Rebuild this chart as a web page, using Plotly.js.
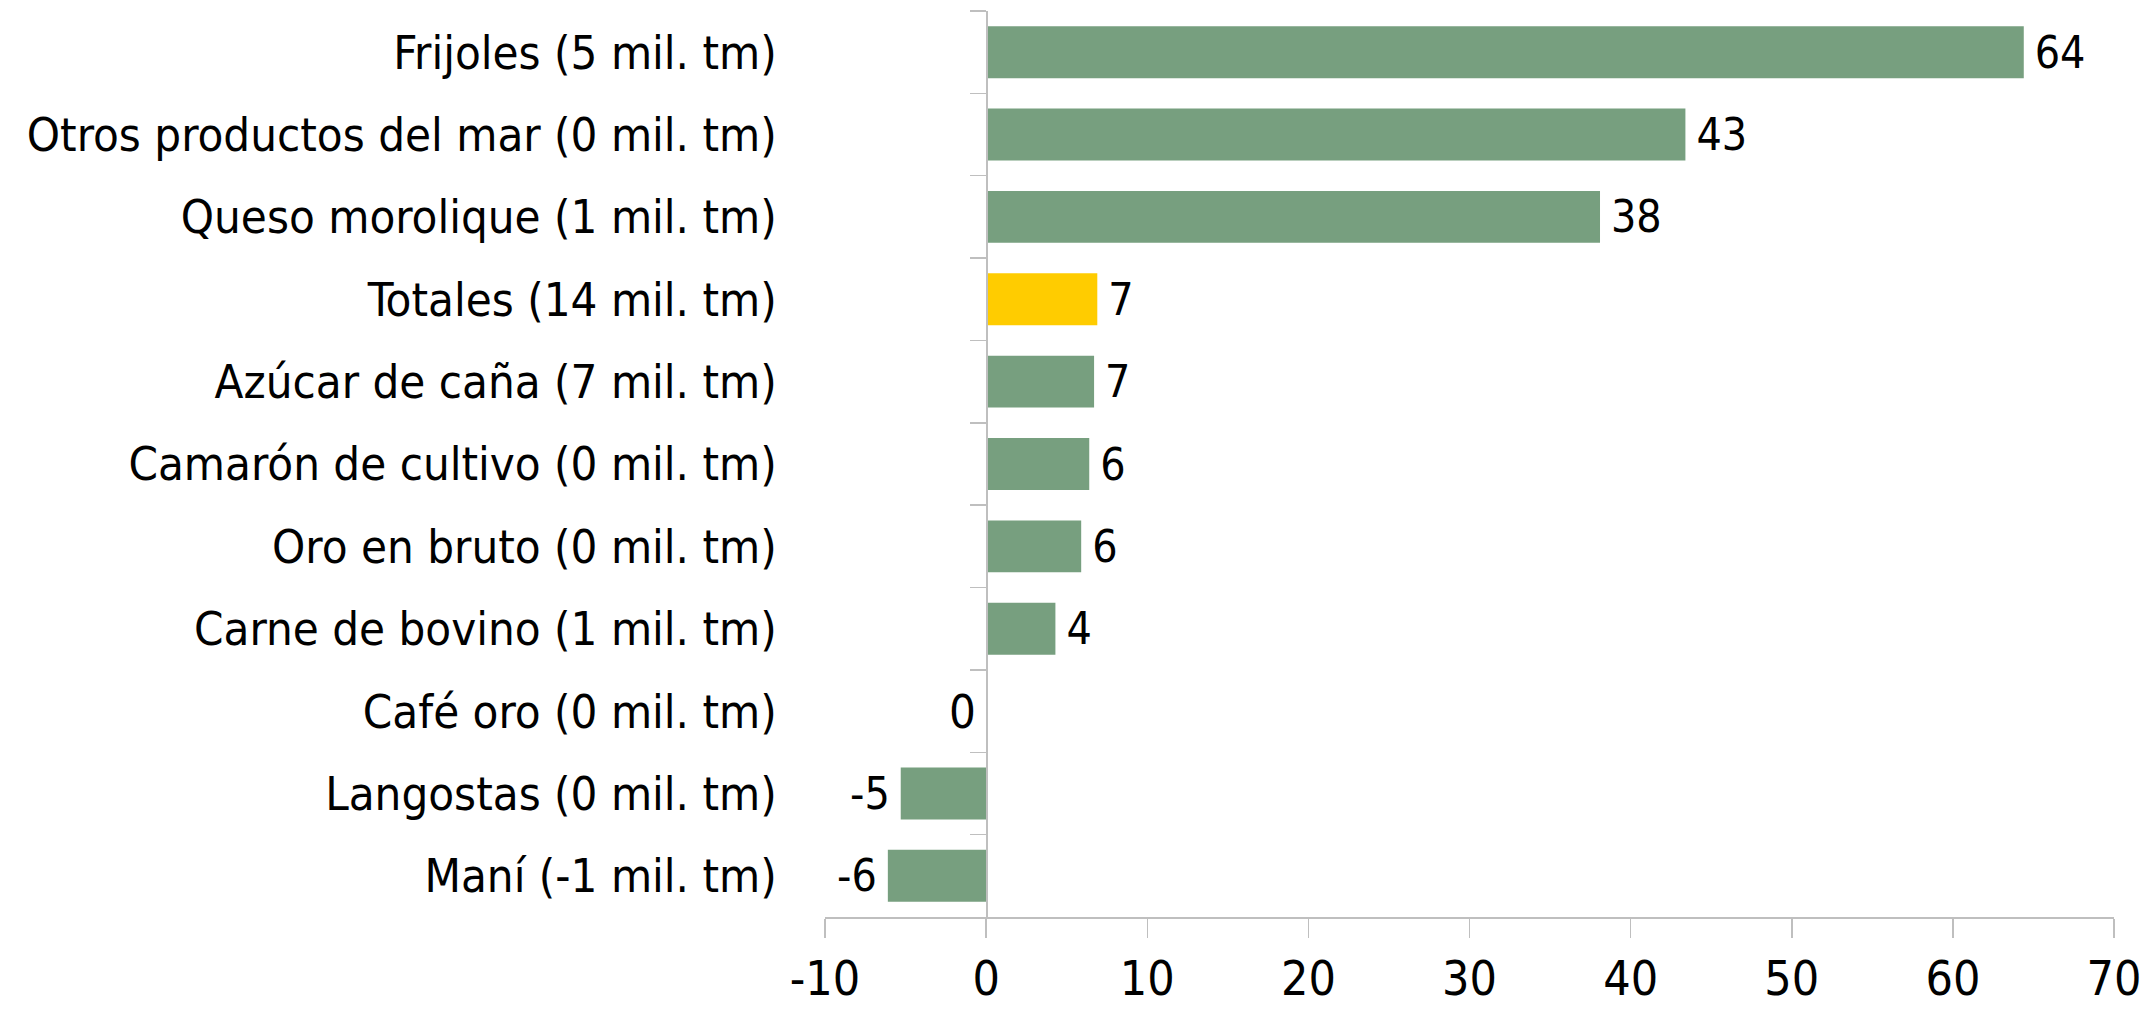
<!DOCTYPE html>
<html>
<head>
<meta charset="utf-8">
<script src="https://cdn.plot.ly/plotly-3.0.1.min.js"></script>
<style>html,body{margin:0;padding:0;background:#fff;}#chart{width:2148px;height:1009px;}</style>
</head>
<body>
<div id="chart"></div>
<script>
const categories = [
  "Frijoles (5 mil. tm)",
  "Otros productos del mar (0 mil. tm)",
  "Queso morolique (1 mil. tm)",
  "Totales (14 mil. tm)",
  "Azúcar de caña (7 mil. tm)",
  "Camarón de cultivo (0 mil. tm)",
  "Oro en bruto (0 mil. tm)",
  "Carne de bovino (1 mil. tm)",
  "Café oro (0 mil. tm)",
  "Langostas (0 mil. tm)",
  "Maní (-1 mil. tm)"
];
const values = [64.4, 43.4, 38.1, 6.9, 6.7, 6.4, 5.9, 4.3, 0, -5.3, -6.1];
const highlight = "Totales (14 mil. tm)";
const xTicks = [-10, 0, 10, 20, 30, 40, 50, 60, 70];

const GREEN = "#779F7F";
const YELLOW = "#FFCC00";
const GRAY = "#BFBFBF";
const FONT = "'DejaVu Sans Condensed', 'Liberation Sans Narrow', sans-serif";
const FS = 47;
const GAP = "\u2009";

const colors = categories.map(c => c === highlight ? YELLOW : GREEN);
const labels = values.map(v => {
  const r = String(Math.round(v));
  if (v > 0) return GAP + r;
  if (v < 0) return r + GAP;
  return "";
});

const trace = {
  type: "bar",
  orientation: "h",
  y: categories,
  x: values,
  marker: {color: colors, line: {width: 0}},
  text: labels,
  textposition: "outside",
  cliponaxis: false,
  textfont: {family: FONT, size: FS, color: "#000"},
  hoverinfo: "y+x"
};

// zero-valued bars: label sits just left of the axis, as in the reference
const zeroAnnotations = values
  .map((v, i) => ({v, i}))
  .filter(o => o.v === 0)
  .map(o => ({
    x: o.v, y: categories[o.i], xref: "x", yref: "y",
    text: String(Math.round(o.v)), showarrow: false,
    xanchor: "right", yanchor: "middle", xshift: -8,
    font: {family: FONT, size: FS, color: "#000"}
  }));

const layout = {
  width: 2148,
  height: 1009,
  margin: {l: 825, r: 34, t: 11, b: 92, pad: 0},
  paper_bgcolor: "#fff",
  plot_bgcolor: "#fff",
  showlegend: false,
  bargap: 0.37,
  font: {family: FONT, size: FS, color: "#000"},
  annotations: zeroAnnotations,
  xaxis: {
    range: [-10, 70],
    tickvals: xTicks,
    ticktext: xTicks.map(String),
    showgrid: false,
    zeroline: false,
    showline: true,
    linecolor: GRAY,
    linewidth: 1.5,
    ticks: "outside",
    ticklen: 19,
    tickwidth: 1.5,
    tickcolor: GRAY,
    tickfont: {family: FONT, size: FS + 1, color: "#000"},
    fixedrange: true
  },
  yaxis: {
    type: "category",
    categoryorder: "array",
    categoryarray: categories,
    autorange: "reversed",
    anchor: "free",
    position: 0.125,
    showgrid: false,
    zeroline: false,
    showline: true,
    linecolor: GRAY,
    linewidth: 1.5,
    ticks: "outside",
    tickson: "boundaries",
    ticklen: 16,
    tickwidth: 1.5,
    tickcolor: GRAY,
    ticklabelstandoff: 200,
    tickfont: {family: FONT, size: FS, color: "#000"},
    fixedrange: true
  }
};

Plotly.newPlot("chart", [trace], layout, {displayModeBar: false, staticPlot: true});
</script>
</body>
</html>
